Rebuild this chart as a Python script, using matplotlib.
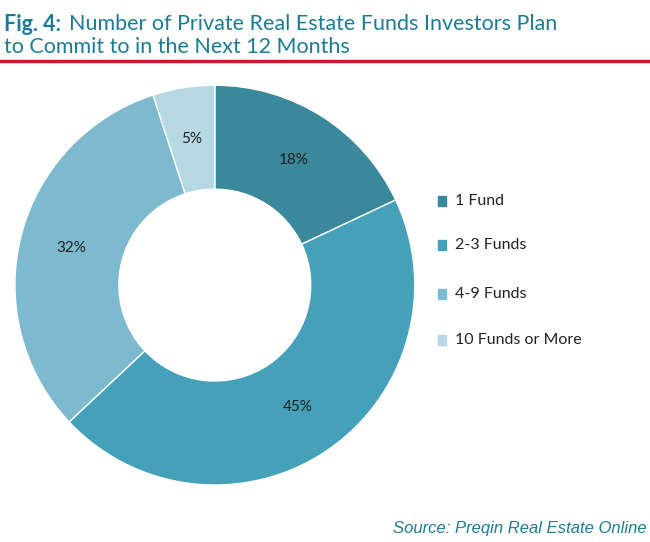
import matplotlib.pyplot as plt
from matplotlib.patches import Rectangle
import numpy as np

categories = ['1 Fund', '2-3 Funds', '4-9 Funds', '10 Funds or More']
values = [18, 45, 32, 5]
colors = ['#3a889b', '#45a1b9', '#7dbad0', '#b6d8e3']

plt.rcParams['font.family'] = ['Lato', 'DejaVu Sans']

fig = plt.figure(figsize=(6.5, 5.42), dpi=100)

# title
fig.text(0.006, 0.955, 'Fig. 4:', color='#1a7d98', fontsize=15.5, fontweight='bold', va='center')
fig.text(0.106, 0.955, 'Number of Private Real Estate Funds Investors Plan',
         color='#1a7d98', fontsize=15.5, va='center')
fig.text(0.006, 0.913, 'to Commit to in the Next 12 Months', color='#1a7d98', fontsize=15.5, va='center')
fig.add_artist(plt.Line2D([0.0, 1.0], [0.887, 0.887], color='#c0202e', lw=2.5))

ax = fig.add_axes([0.023, 0.105, 0.615, 0.738])
wedges, texts = ax.pie(values, colors=colors, startangle=90, counterclock=False,
                       wedgeprops=dict(width=0.52, edgecolor='white', linewidth=1))
ax.set_xlim(-1, 1)
ax.set_ylim(-1, 1)
ax.set_aspect('equal')

ang = 90.0
for v in values:
    mid = np.deg2rad(ang - v * 3.6 / 2)
    r = 0.74
    ax.text(r * np.cos(mid), r * np.sin(mid), f'{v}%', ha='center', va='center',
            fontsize=11, color='#222222')
    ang -= v * 3.6

# legend
ys = [201, 245, 294, 340]
for cat, c, y in zip(categories, colors, ys):
    fy = 1 - y / 542
    fig.add_artist(Rectangle((438 / 650, fy - 0.009), 8 / 650, 0.018, color=c,
                             transform=fig.transFigure))
    fig.text(455 / 650, fy, cat, fontsize=11.5, color='#222222', va='center')

fig.text(0.995, 0.025, 'Source: Preqin Real Estate Online', color='#1a7d98',
         fontsize=12, style='italic', ha='right', va='center', family=['Liberation Sans'])

fig.savefig('out.png', dpi=100)
